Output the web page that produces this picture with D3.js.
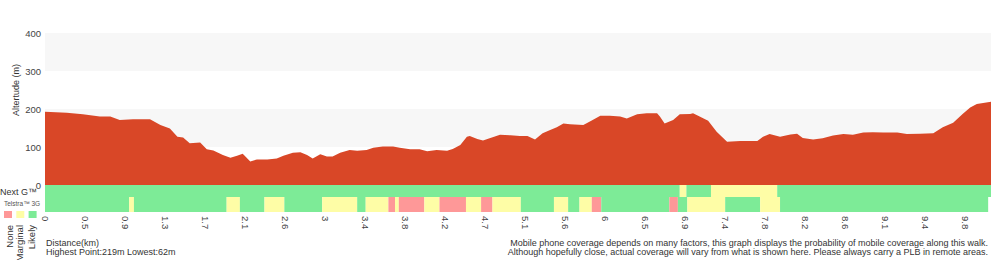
<!DOCTYPE html>
<meta charset="utf-8">
<script src="https://d3js.org/d3.v7.min.js"></script>

<svg id="profile" width="1000" height="260"></svg>

<style>
body {
  margin: 0;
  background-color: #FFFFFF;
  font-family: "Liberation Sans", Arial, sans-serif;
}
text {
  fill: #333;
}
.tick text {
  fill: #444;
  font-size: 9.5px;
}
</style>

<script>
// elevation samples
const distKm = [0.00, 0.23, 0.40, 0.58, 0.69, 0.79, 0.93, 1.11, 1.22, 1.32, 1.40, 1.46, 1.53, 1.64, 1.71, 1.78, 1.88, 1.96, 2.03, 2.09,
  2.17, 2.24, 2.35, 2.45, 2.52, 2.62, 2.70, 2.77, 2.83, 2.91, 2.98, 3.04, 3.12, 3.22, 3.30, 3.40, 3.47, 3.57, 3.68, 3.75,
  3.86, 3.96, 4.04, 4.14, 4.25, 4.31, 4.39, 4.46, 4.49, 4.57, 4.63, 4.70, 4.81, 4.92, 5.02, 5.10, 5.18, 5.26, 5.34, 5.41,
  5.48, 5.55, 5.69, 5.76, 5.87, 5.97, 6.08, 6.15, 6.26, 6.36, 6.47, 6.50, 6.55, 6.64, 6.71, 6.82, 6.85, 6.92, 7.01, 7.10,
  7.21, 7.35, 7.53, 7.59, 7.66, 7.77, 7.88, 7.95, 8.01, 8.12, 8.22, 8.33, 8.44, 8.54, 8.65, 8.75, 8.86, 9.01, 9.11, 9.25,
  9.39, 9.49, 9.60, 9.70, 9.78, 9.85, 10.00];
const elevM = [193, 190, 186, 180, 180, 171, 173, 173, 158, 149, 127, 125, 110, 112, 94, 91, 79, 72, 77, 82,
  62, 67, 67, 70, 77, 85, 86, 79, 70, 81, 75, 75, 85, 92, 90, 92, 98, 101, 101, 98,
  94, 94, 89, 92, 90, 95, 105, 127, 129, 121, 117, 123, 132, 131, 129, 129, 120, 136, 145, 152,
  162, 160, 158, 167, 182, 182, 180, 175, 186, 189, 189, 180, 162, 171, 186, 187, 189, 180, 169, 140,
  114, 116, 116, 127, 134, 127, 133, 135, 124, 120, 123, 130, 134, 132, 138, 139, 138, 138, 134, 135,
  136, 152, 164, 187, 204, 213, 219];

const totalKm = 10.0;
const tickStepKm = 0.4228;
const tickLabels = ["0", "0.5", "0.9", "1.3", "1.7", "2.1", "2.6", "3", "3.4", "3.8", "4.2", "4.7",
  "5.1", "5.6", "6", "6.5", "6.9", "7.4", "7.8", "8.2", "8.6", "9.1", "9.4", "9.8"];
const altTicks = [0, 100, 200, 300, 400];
const altBands = [[100, 200], [300, 400]];

// coverage: breakpoints (km) and the level between each pair
const nextGBreaks = [0, 6.71, 6.78, 7.04, 7.74, 10.0];
const nextGLevels = ["likely", "marginal", "likely", "marginal", "likely"];
const g3Breaks = [0, 0.89, 0.94, 1.92, 2.06, 2.32, 2.53, 2.93, 3.30, 3.39, 3.63, 3.70, 3.74, 4.01, 4.17, 4.45,
  4.61, 4.73, 5.03, 5.38, 5.53, 5.65, 5.78, 5.88, 6.60, 6.69, 6.79, 7.19, 7.56, 7.77, 9.97];
const g3Levels = ["likely", "marginal", "likely", "marginal", "likely", "marginal", "likely", "marginal", "likely", "marginal",
  "none", "marginal", "none", "marginal", "none", "marginal", "none", "marginal", "likely", "marginal",
  "likely", "marginal", "none", "likely", "none", "likely", "marginal", "likely", "marginal", "likely"];
const legendLevels = ["none", "marginal", "likely"];
const legendNames = ["None", "Marginal", "Likely"];

const svg = d3.select("svg");

const margin = {left: 45, right: 9, top: 33},
  plotW = 1000 - margin.left - margin.right,
  plotH = 152;

const x = d3.scaleLinear().domain([0, totalKm]).range([margin.left, margin.left + plotW]);
const y = d3.scaleLinear().domain([0, 400]).range([margin.top + plotH, margin.top]);

const coverColor = d3.scaleOrdinal()
  .domain(legendLevels)
  .range(["#fe9898", "#fefda6", "#7deb97"]);

// grey bands behind the profile
svg.append("g").selectAll("rect")
  .data(altBands)
  .join("rect")
  .attr("x", x(0))
  .attr("width", x(totalKm) - x(0))
  .attr("y", d => y(d[1]))
  .attr("height", d => y(d[0]) - y(d[1]))
  .attr("fill", "#f7f7f7");

const profile = distKm.map((d, i) => ({dist: d, elev: elevM[i]}));

svg.append("path")
  .datum(profile)
  .attr("fill", "#d94727")
  .attr("d", d3.area()
    .x(d => x(d.dist))
    .y0(y(0))
    .y1(d => y(d.elev)));

// coverage strips
function strip(breaks, levels, top, h) {
  const segs = levels.map((l, i) => ({from: breaks[i], to: breaks[i + 1], level: l}));
  svg.append("g").selectAll("rect")
    .data(segs)
    .join("rect")
    .attr("x", d => x(d.from))
    .attr("width", d => x(d.to) - x(d.from))
    .attr("y", top)
    .attr("height", h)
    .attr("fill", d => coverColor(d.level));
}
strip(nextGBreaks, nextGLevels, y(0), 12);
strip(g3Breaks, g3Levels, y(0) + 12, 15);

// y axis
const yAxis = svg.append("g")
  .attr("transform", "translate(" + (margin.left - 1) + ",0)")
  .call(d3.axisLeft(y).tickValues(altTicks).tickSize(0).tickPadding(3));
yAxis.select(".domain").remove();

svg.append("text")
  .attr("transform", "translate(19," + y(250) + ") rotate(-90)")
  .attr("text-anchor", "middle")
  .style("font-size", "9px")
  .text("Altertude (m)");

// x axis, labels rotated downwards
const xAxis = svg.append("g")
  .attr("transform", "translate(0," + (y(0) + 27) + ")")
  .call(d3.axisBottom(x)
    .tickValues(tickLabels.map((d, i) => i * tickStepKm))
    .tickFormat((d, i) => tickLabels[i])
    .tickSize(0));
xAxis.select(".domain").remove();
xAxis.selectAll("text")
  .attr("y", 0)
  .attr("x", 4)
  .attr("dy", "0.32em")
  .attr("transform", "rotate(90)")
  .style("text-anchor", "start");

// row labels and legend
svg.append("text")
  .attr("x", 0)
  .attr("y", 195)
  .style("font-size", "9px")
  .text("Next G™");

svg.append("text")
  .attr("x", 4)
  .attr("y", 206)
  .style("font-size", "6.5px")
  .style("fill", "#555")
  .text("Telstra™ 3G");

svg.append("g").selectAll("rect")
  .data(legendLevels)
  .join("rect")
  .attr("x", (d, i) => 4 + i * 12.3)
  .attr("y", 211)
  .attr("width", 8)
  .attr("height", 7)
  .attr("fill", d => coverColor(d));

svg.append("g").selectAll("text")
  .data(legendNames)
  .join("text")
  .attr("transform", (d, i) => "translate(" + [13, 22.5, 34.5][i] + ",225) rotate(-90)")
  .attr("text-anchor", "end")
  .style("font-size", "9.5px")
  .text(d => d);

svg.append("text")
  .attr("x", 46)
  .attr("y", 246)
  .style("font-size", "9px")
  .text("Distance(km)");
svg.append("text")
  .attr("x", 46)
  .attr("y", 255)
  .style("font-size", "9px")
  .text("Highest Point:" + d3.max(elevM) + "m Lowest:" + d3.min(elevM) + "m");

const note = ["Mobile phone coverage depends on many factors, this graph displays the probability of mobile coverage along this walk.",
  "Although hopefully close, actual coverage will vary from what is shown here. Please always carry a PLB in remote areas."];
svg.append("g").selectAll("text")
  .data(note)
  .join("text")
  .attr("x", 988)
  .attr("y", (d, i) => 246 + i * 9)
  .attr("text-anchor", "end")
  .style("font-size", "9px")
  .text(d => d);
</script>
